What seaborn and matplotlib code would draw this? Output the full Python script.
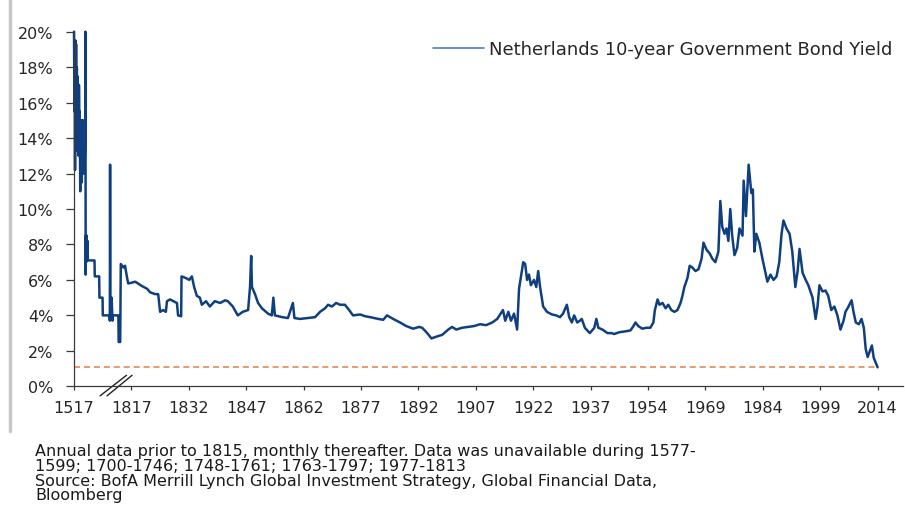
import numpy as np
import pandas as pd
import matplotlib
matplotlib.use("Agg")
import matplotlib.pyplot as plt
from matplotlib.lines import Line2D
from matplotlib.ticker import FuncFormatter
import seaborn as sns

annual_years = [1517, 1519, 1520, 1521, 1522, 1523, 1524, 1525, 1526, 1528,
                1529, 1530, 1532, 1533, 1535, 1536, 1538, 1539, 1541, 1542,
                1544, 1545, 1547, 1548, 1550, 1552, 1554, 1556, 1558, 1560,
                1561, 1562, 1563, 1564, 1566, 1567, 1569, 1570, 1576, 1600,
                1619, 1620, 1637, 1638, 1650, 1651, 1677, 1678, 1679, 1680,
                1684, 1685, 1688, 1689, 1699, 1747, 1762, 1798, 1807, 1808,
                1814]
annual_yield = [20.0, 15.5, 19.0, 12.2, 17.5, 19.5, 13.5, 19.3, 14.0, 18.0,
                13.3, 17.5, 14.0, 16.5, 13.0, 17.0, 14.0, 15.5, 11.0, 14.5,
                12.5, 15.0, 11.5, 15.0, 13.0, 15.0, 12.0, 14.5, 12.5, 14.0,
                20.0, 6.3, 8.5, 7.0, 8.5, 7.2, 8.2, 7.1, 7.1, 7.1,
                7.1, 6.2, 6.2, 5.0, 5.0, 4.0, 4.0, 3.7, 12.5, 4.0,
                4.0, 5.0, 3.7, 4.0, 4.0, 4.0, 4.0, 4.0, 4.0, 2.5,
                2.5]

# Monthly observations from 1815 (sampled), % yield
monthly_years = [1815.0, 1815.5, 1815.8, 1816.2, 1816.4, 1817.2, 1818.0, 1818.7, 1819.8, 1821.1,
                 1821.9, 1823.2, 1824.0, 1824.5, 1825.3, 1826.0, 1826.3, 1827.1, 1828.4, 1828.9,
                 1829.2, 1830.0, 1830.1, 1831.3, 1832.1, 1832.8, 1833.4, 1834.1, 1834.9, 1835.4,
                 1836.5, 1837.5, 1838.8, 1840.2, 1841.5, 1842.2, 1843.5, 1844.8, 1846.1, 1847.5,
                 1848.0, 1848.3, 1848.5, 1849.3, 1850.1, 1851.1, 1852.7, 1853.7, 1854.1, 1854.5,
                 1856.4, 1857.9, 1859.2, 1859.6, 1861.1, 1863.1, 1865.0, 1866.3, 1867.6, 1868.4,
                 1869.4, 1870.5, 1871.5, 1872.8, 1873.9, 1874.9, 1876.8, 1878.1, 1879.4, 1881.5,
                 1882.8, 1883.8, 1885.4, 1887.2, 1888.8, 1890.6, 1892.2, 1893.0, 1894.3, 1895.4,
                 1896.7, 1898.2, 1899.8, 1900.8, 1901.9, 1903.4, 1905.0, 1906.6, 1908.1, 1909.7,
                 1911.3, 1912.6, 1914.1, 1914.7, 1915.5, 1916.2, 1917.0, 1917.8, 1918.3, 1918.8,
                 1919.4, 1919.9, 1920.4, 1920.9, 1921.4, 1922.2, 1922.8, 1923.3, 1923.8, 1924.6,
                 1925.6, 1926.9, 1928.0, 1929.0, 1929.8, 1930.8, 1931.4, 1932.1, 1932.7, 1933.5,
                 1934.2, 1934.7, 1935.5, 1936.8, 1938.1, 1938.7, 1939.3, 1940.5, 1942.0, 1943.2,
                 1944.0, 1945.5, 1947.3, 1948.8, 1949.7, 1950.3, 1951.1, 1952.3, 1953.5, 1954.6,
                 1955.4, 1955.8, 1956.5, 1957.0, 1957.8, 1958.6, 1959.3, 1960.1, 1960.9, 1961.7,
                 1962.5, 1963.0, 1963.5, 1964.3, 1964.9, 1965.6, 1966.4, 1967.2, 1968.0, 1968.5,
                 1969.3, 1970.1, 1970.8, 1971.6, 1972.4, 1972.9, 1973.4, 1974.0, 1974.5, 1975.0,
                 1975.5, 1976.0, 1976.6, 1977.3, 1977.9, 1978.7, 1979.0, 1979.6, 1980.3, 1981.0,
                 1981.4, 1981.8, 1982.3, 1983.1, 1983.9, 1984.7, 1985.2, 1986.0, 1986.8, 1987.6,
                 1988.3, 1988.9, 1989.4, 1990.2, 1991.0, 1991.7, 1992.5, 1993.1, 1993.6, 1994.4,
                 1995.2, 1995.9, 1997.0, 1997.8, 1998.3, 1998.8, 1999.6, 2000.4, 2001.1, 2001.9,
                 2002.7, 2003.5, 2004.3, 2005.1, 2005.6, 2006.4, 2007.2, 2007.7, 2008.3, 2009.1,
                 2009.8, 2010.4, 2010.9, 2011.4, 2012.0, 2012.5, 2013.0, 2014.0]
monthly_yield = [6.9, 6.7, 6.8, 6.1, 5.8, 5.85, 5.9, 5.8, 5.65, 5.5,
                 5.3, 5.2, 5.2, 4.2, 4.3, 4.2, 4.8, 4.9, 4.75, 4.7,
                 4.0, 3.95, 6.2, 6.1, 6.0, 6.2, 5.6, 5.1, 5.0, 4.6,
                 4.8, 4.5, 4.8, 4.7, 4.85, 4.8, 4.5, 4.0, 4.2, 4.3,
                 5.6, 7.35, 5.6, 5.2, 4.7, 4.4, 4.1, 4.0, 5.0, 4.0,
                 3.9, 3.85, 4.7, 3.85, 3.8, 3.85, 3.9, 4.2, 4.4, 4.6,
                 4.5, 4.7, 4.6, 4.6, 4.3, 4.0, 4.05, 3.95, 3.9, 3.8,
                 3.75, 4.0, 3.8, 3.6, 3.4, 3.25, 3.35, 3.3, 3.0, 2.7,
                 2.8, 2.9, 3.2, 3.35, 3.2, 3.3, 3.35, 3.4, 3.5, 3.45,
                 3.6, 3.8, 4.3, 3.7, 4.2, 3.7, 4.1, 3.2, 5.5, 6.2,
                 7.0, 6.9, 6.0, 6.3, 5.7, 6.0, 5.6, 6.5, 5.6, 4.5,
                 4.2, 4.05, 4.0, 3.9, 4.1, 4.6, 3.9, 3.6, 4.0, 3.6,
                 3.7, 3.8, 3.3, 3.0, 3.3, 3.8, 3.3, 3.2, 3.0, 3.0,
                 2.95, 3.05, 3.1, 3.15, 3.4, 3.6, 3.4, 3.25, 3.3, 3.3,
                 3.6, 4.3, 4.9, 4.6, 4.7, 4.4, 4.6, 4.3, 4.2, 4.3,
                 4.7, 5.1, 5.6, 6.1, 6.8, 6.7, 6.5, 6.6, 7.2, 8.1,
                 7.7, 7.5, 7.2, 7.0, 7.6, 10.45, 9.0, 8.6, 8.9, 8.2,
                 10.0, 8.5, 7.4, 7.8, 8.9, 8.5, 11.6, 9.6, 12.5, 10.9,
                 11.1, 7.6, 8.6, 8.1, 7.2, 6.4, 5.9, 6.3, 6.0, 6.2,
                 7.0, 8.6, 9.35, 8.9, 8.6, 7.6, 5.6, 6.5, 7.75, 6.4,
                 6.0, 5.7, 5.0, 3.8, 4.5, 5.7, 5.35, 5.4, 5.1, 4.3,
                 4.5, 4.0, 3.2, 3.7, 4.2, 4.5, 4.85, 4.2, 3.6, 3.5,
                 3.8, 3.3, 2.1, 1.65, 2.0, 2.3, 1.6, 1.07]

tick_years = [1517, 1817, 1832, 1847, 1862, 1877, 1892, 1907, 1922,
              1937, 1954, 1969, 1984, 1999, 2014]
latest_yield = 1.07
annual_gaps = [(1577, 1599), (1700, 1746), (1748, 1761), (1763, 1797)]

footnote = ["Annual data prior to 1815, monthly thereafter. Data was unavailable during 1577-",
            "1599; 1700-1746; 1748-1761; 1763-1797; 1977-1813",
            "Source: BofA Merrill Lynch Global Investment Strategy, Global Financial Data,",
            "Bloomberg"]


# category-like axis: annual points squeezed before 1815, then 15 years per tick
def annual_pos(years):
    years = np.asarray(years, dtype=float)
    idx = years - 1517
    for a, b in annual_gaps:
        idx = idx - np.clip(years - a, 0, b - a + 1)
    return idx / 178 * 0.805


def monthly_pos(years):
    return np.interp(years, [1815] + tick_years[1:], [0.815] + list(range(1, len(tick_years))))


df = pd.DataFrame({
    "pos": np.concatenate([annual_pos(annual_years), monthly_pos(monthly_years)]),
    "yield": annual_yield + monthly_yield,
})

sns.set_style("white")
plt.rcParams["font.family"] = ["DejaVu Sans"]

W, H = 905, 506
fig = plt.figure(figsize=(W / 100, H / 100), dpi=100)
ax = fig.add_axes([74 / W, 1 - 387.3 / H, (903 - 74) / W, (387.3 - 32.7) / H])

line_color = "#103f80"
sns.lineplot(data=df, x="pos", y="yield", ax=ax, color=line_color, linewidth=1.8,
             estimator=None, sort=False, legend=False)
ax.lines[-1].set_clip_on(False)

# dashed reference at the latest yield
ax.hlines(latest_yield, annual_pos(1517), monthly_pos(2014),
          colors="#e0804a", linestyles=(0, (4, 2.5)), linewidth=1.1)

ax.set_xlim(0, (903 - 74) / 57.4)
ax.set_ylim(0, 20)
ax.set_yticks(range(0, 21, 2))
ax.yaxis.set_major_formatter(FuncFormatter(lambda v, _: f"{v:.0f}%"))
ax.set_xticks(range(len(tick_years)))
ax.set_xticklabels([str(y) for y in tick_years])
ax.set_xlabel("")
ax.set_ylabel("")

for side in ["top", "right"]:
    ax.spines[side].set_visible(False)
for side in ["left", "bottom"]:
    ax.spines[side].set_color("#3a3a3a")
    ax.spines[side].set_linewidth(0.9)

ax.tick_params(axis="y", direction="out", length=6, width=0.9, color="#3a3a3a",
               pad=9, labelsize=11.5, labelcolor="#262626", left=True)
ax.tick_params(axis="x", direction="out", length=3, width=0.9, color="#3a3a3a",
               pad=7, labelsize=11.5, labelcolor="#262626", bottom=True)

# axis break marks
for x0, x1 in [(0.0314, 0.0633), (0.0398, 0.0700)]:
    ax.plot([x0, x1], [-0.027, 0.031], transform=ax.transAxes, color="#222222",
            linewidth=1.0, clip_on=False)

handle = Line2D([], [], color="#4a7ebb", linewidth=1.2)
ax.legend([handle], ["Netherlands 10-year Government Bond Yield"], loc="center left",
          bbox_to_anchor=(433 / W, 1 - 50 / H), bbox_transform=fig.transFigure,
          frameon=False, fontsize=13, handlelength=2.8, handletextpad=0.3,
          borderpad=0, borderaxespad=0, labelcolor="#262626")

# slide border on the left
fig.add_artist(Line2D([10 / W, 10 / W], [1, 1 - 432 / H], color="#c8c8c8", linewidth=2.5))

fig.text(35 / W, 1 - 444 / H, "\n".join(footnote), fontsize=11.5, va="top",
         linespacing=0.98, color="#1a1a1a")

fig.savefig("out.png", dpi=100)
